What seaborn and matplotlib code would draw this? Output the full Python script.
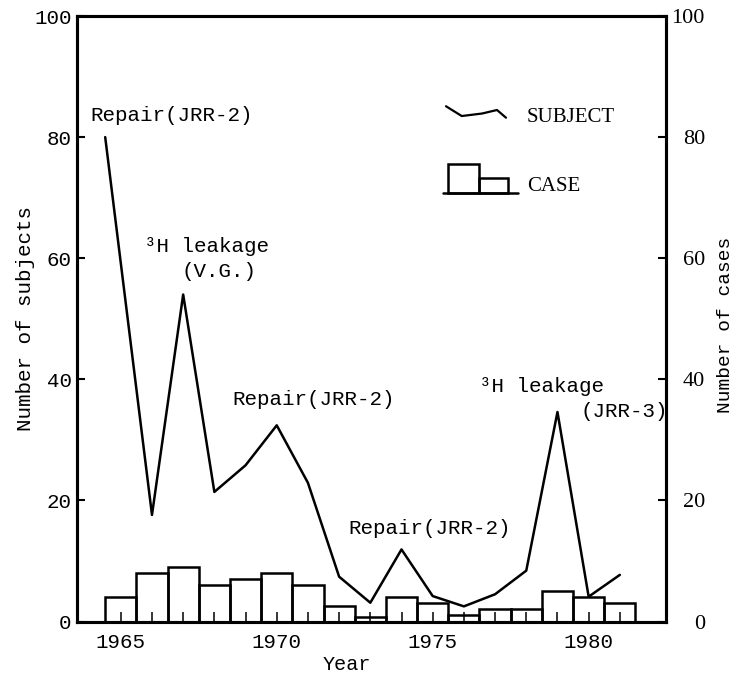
import numpy as np
import matplotlib
matplotlib.use("Agg")
import matplotlib.pyplot as plt
import seaborn as sns
from matplotlib.legend_handler import HandlerBase
from matplotlib.lines import Line2D
from matplotlib.patches import Rectangle

# Yearly number of cases (bars, right axis)
years = list(range(1965, 1982))
case_counts = [4, 8, 9, 6, 7, 8, 6, 2.5, 0.7, 4, 3, 1, 2, 2, 5, 4, 3]

# Number of subjects (line, left axis)
subject_years = [1964.5, 1966, 1967, 1968, 1969, 1970, 1971, 1972, 1973,
                 1974, 1975, 1976, 1977, 1978, 1979, 1980, 1981]
subject_counts = [80, 17.6, 54, 21.4, 25.8, 32.4, 22.9, 7.4, 3.1,
                  11.9, 4.2, 2.5, 4.5, 8.4, 34.6, 4.1, 7.7]

labelled_years = [1965, 1970, 1975, 1980]
y_ticks = [0, 20, 40, 60, 80, 100]

MONO = "Liberation Mono"
SERIF = "Liberation Serif"

sns.set_theme(style="ticks")
plt.rcParams["font.family"] = [MONO, "DejaVu Sans"]
plt.rcParams.update({
    "axes.edgecolor": "black",
    "axes.labelcolor": "black",
    "text.color": "black",
    "xtick.color": "black",
    "ytick.color": "black",
    "axes.linewidth": 2.2,
})

fig = plt.figure(figsize=(7.38, 6.79), dpi=100)
ax = fig.add_axes([0.10366, 0.08468, 0.79878, 0.89175])
ax2 = ax.twinx()

# bars: one per year, outlined
sns.histplot(x=years, weights=case_counts, discrete=True, element="bars",
             fill=False, color="black", linewidth=1.8, ax=ax2)

# subjects line
sns.lineplot(x=subject_years, y=subject_counts, color="black", linewidth=1.8,
             ax=ax)

ax.set_xlim(1963.58, 1982.48)
ax.set_ylim(0, 100)
ax2.set_ylim(0, 100)

ax.set_xticks(years)
ax.set_xticklabels([str(y) if y in labelled_years else "" for y in years])
ax.set_yticks(y_ticks)
ax2.set_yticks(y_ticks)

ax.tick_params(axis="x", direction="in", length=7, width=1.1, pad=8,
               labelsize=15, top=False)
ax.tick_params(axis="y", direction="in", length=6, width=1.5, pad=3.5,
               labelsize=15, right=False)
ax2.tick_params(axis="y", direction="in", length=6, width=1.5, pad=28,
                labelsize=16, left=False)
for lbl in ax2.get_yticklabels():
    lbl.set_horizontalalignment("right")
    lbl.set_fontfamily(SERIF)

for a in (ax, ax2):
    for s in a.spines.values():
        s.set_linewidth(2.2)
        s.set_color("black")

ax.set_xlabel("Year", fontsize=14.5)
ax.xaxis.set_label_coords(0.459, -0.0553)
ax.set_ylabel("Number of subjects", fontsize=15)
ax.yaxis.set_label_coords(-0.07, 0.5)
ax2.set_ylabel("Number of cases", fontsize=14, fontfamily=MONO)
ax2.yaxis.set_label_coords(1.0865, 0.49)

# event annotations
note_kw = dict(ha="left", va="center", fontsize=15, fontfamily=MONO)
ax.text(1964.02, 83.6, "Repair(JRR-2)", **note_kw)
ax.text(1965.75, 61.9, "³H leakage", **note_kw)
ax.text(1966.96, 57.8, "(V.G.)", **note_kw)
ax.text(1968.57, 36.6, "Repair(JRR-2)", **note_kw)
ax.text(1972.29, 15.4, "Repair(JRR-2)", **note_kw)
ax.text(1976.48, 38.8, "³H leakage", **note_kw)
ax.text(1979.75, 34.6, "(JRR-3)", **note_kw)


# legend keys drawn by hand-made handlers (y measured from the text baseline)
class SubjectKey:
    pass


class CaseKey:
    pass


class ZigzagHandler(HandlerBase):
    def create_artists(self, legend, orig_handle, xdescent, ydescent,
                       width, height, fontsize, trans):
        fx = np.array([0.04, 0.25, 0.52, 0.72, 0.84])
        fy = np.array([0.76, 0.29, 0.41, 0.58, 0.21])
        return [Line2D(fx * width - xdescent, fy * fontsize,
                       color="black", lw=1.6, transform=trans)]


class StepBoxHandler(HandlerBase):
    def create_artists(self, legend, orig_handle, xdescent, ydescent,
                       width, height, fontsize, trans):
        x0, y0 = -xdescent, -0.1 * fontsize
        h = 1.4 * fontsize
        base = Line2D([x0, x0 + width], [y0, y0], color="black", lw=1.8,
                      transform=trans)
        tall = Rectangle((x0 + 0.064 * width, y0), 0.416 * width, h,
                         fill=False, ec="black", lw=1.8, transform=trans)
        short = Rectangle((x0 + 0.48 * width, y0), 0.39 * width, 0.54 * h,
                          fill=False, ec="black", lw=1.8, transform=trans)
        return [base, tall, short]


ax2.legend([SubjectKey(), CaseKey()], ["SUBJECT", "CASE"],
           handler_map={SubjectKey: ZigzagHandler(),
                        CaseKey: StepBoxHandler()},
           loc="upper left", bbox_to_anchor=(0.6217, 0.852),
           frameon=False, borderpad=0, borderaxespad=0,
           handlelength=3.6, handleheight=1.0, handletextpad=0.43,
           labelspacing=2.29, prop={"family": SERIF, "size": 15})

fig.savefig("out.png", dpi=100)
